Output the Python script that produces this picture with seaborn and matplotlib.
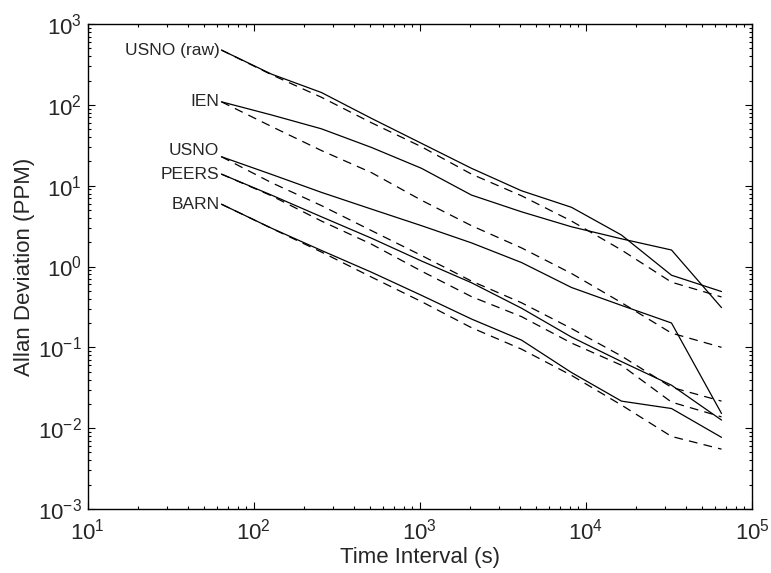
import matplotlib
matplotlib.use("Agg")
import matplotlib.pyplot as plt
from matplotlib.ticker import LogLocator, NullFormatter
import numpy as np
import pandas as pd
import seaborn as sns

# Averaging intervals (s)
tau = [64, 128, 256, 512, 1024, 2048, 4096, 8192, 16384, 32768, 65536]

# Measured Allan deviation (PPM) per timing source
usno_raw = [476, 240, 142, 68, 33.4, 16.4, 8.65, 5.4, 2.45, 0.78, 0.49]
ien = [109, 75, 50.5, 29.7, 16.4, 7.65, 4.75, 3.1, 2.2, 1.6, 0.31]
usno = [22.8, 13.8, 8.26, 5.13, 3.2, 1.96, 1.12, 0.55, 0.33, 0.2, 0.0152]
peers = [13.9, 7.65, 4.12, 2.24, 1.17, 0.63, 0.305, 0.134, 0.0666, 0.034, 0.0126]
barn = [5.9, 2.98, 1.58, 0.85, 0.44, 0.224, 0.123, 0.0488, 0.0216, 0.0175, 0.0077]

# Model curves (dashed)
usno_raw_fit = [476, 236, 124, 60, 30.3, 13.9, 7.5, 3.65, 1.6, 0.64, 0.42]
ien_fit = [109, 54, 27.2, 14.5, 6.6, 3.2, 1.7, 0.82, 0.357, 0.15, 0.1]
usno_fit = [22.8, 10.9, 5.67, 2.78, 1.37, 0.66, 0.356, 0.171, 0.078, 0.032, 0.0216]
peers_fit = [13.9, 7.5, 3.65, 1.89, 0.877, 0.424, 0.24, 0.113, 0.06, 0.021, 0.0138]
barn_fit = [5.9, 2.97, 1.51, 0.74, 0.368, 0.175, 0.095, 0.045, 0.0193, 0.0079, 0.0055]

names = ["USNO (raw)", "IEN", "USNO", "PEERS", "BARN"]
measured = [usno_raw, ien, usno, peers, barn]
fitted = [usno_raw_fit, ien_fit, usno_fit, peers_fit, barn_fit]

rows = []
for name, meas, fit in zip(names, measured, fitted):
    for t, m, f in zip(tau, meas, fit):
        rows.append({"tau": t, "adev": m, "source": name, "kind": "measured"})
        rows.append({"tau": t, "adev": f, "source": name, "kind": "model"})
df = pd.DataFrame(rows)

sns.set_style("ticks")
plt.rcParams["font.family"] = ["Liberation Sans", "DejaVu Sans"]
plt.rcParams["mathtext.fontset"] = "custom"
plt.rcParams["mathtext.rm"] = "Liberation Sans"
plt.rcParams["mathtext.it"] = "Liberation Sans:italic"
plt.rcParams["mathtext.bf"] = "Liberation Sans:bold"

fig = plt.figure(figsize=(7.71, 5.73), dpi=100)
ax = fig.add_axes([87.5 / 771, 1 - 509 / 573, (752 - 87.5) / 771, (509 - 24) / 573])

for name in names:
    for kind, ls in (("measured", "-"), ("model", (0, (7, 5)))):
        sub = df[(df["source"] == name) & (df["kind"] == kind)]
        sns.lineplot(data=sub, x="tau", y="adev", ax=ax, color="black",
                     linewidth=0.9, linestyle=ls, estimator=None,
                     sort=False, legend=False)

ax.set_xscale("log")
ax.set_yscale("log")
ax.set_xlim(10, 1e5)
ax.set_ylim(1e-3, 1e3)
ax.xaxis.set_major_locator(LogLocator(base=10, numticks=12))
ax.yaxis.set_major_locator(LogLocator(base=10, numticks=12))
ax.xaxis.set_minor_locator(LogLocator(base=10, subs=np.arange(2, 10), numticks=12))
ax.yaxis.set_minor_locator(LogLocator(base=10, subs=np.arange(2, 10), numticks=12))
ax.xaxis.set_minor_formatter(NullFormatter())
ax.yaxis.set_minor_formatter(NullFormatter())

ax.tick_params(which="both", direction="in", top=True, right=True,
               color="black", width=0.8, labelsize=16)
ax.tick_params(which="major", length=5)
ax.tick_params(which="minor", length=2.5)
ax.tick_params(axis="x", which="major", pad=7)
ax.tick_params(axis="y", which="major", pad=4)
for sp in ax.spines.values():
    sp.set_visible(True)
    sp.set_color("black")
    sp.set_linewidth(1.0)

ax.set_xlabel("Time Interval (s)", fontsize=16, labelpad=2)
ax.set_ylabel("Allan Deviation (PPM)", fontsize=16, labelpad=2)

# Source names at the start of each curve
label_shift = {"USNO": 4.5}
for name, meas in zip(names, measured):
    ax.annotate(name, xy=(tau[0], meas[0]),
                xytext=(-1.5, label_shift.get(name, 0)),
                textcoords="offset points", ha="right", va="center",
                fontsize=12.5)

fig.savefig("out.png", dpi=100)
